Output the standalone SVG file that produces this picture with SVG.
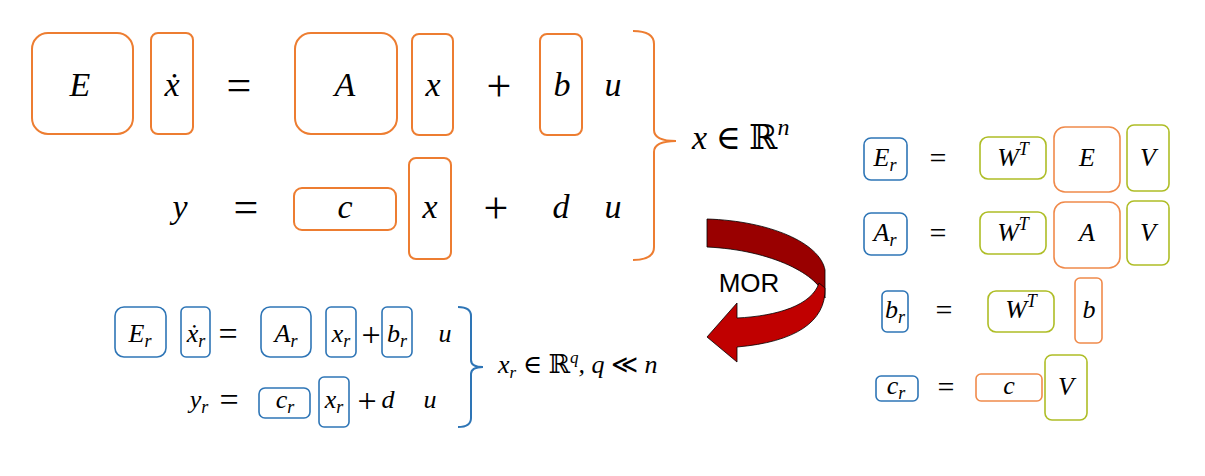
<svg xmlns="http://www.w3.org/2000/svg" width="1205" height="476" viewBox="0 0 1205 476">
<style>
.bo{fill:none;stroke:#ED7D31;stroke-width:2}
.bo2{fill:none;stroke:#F08A4B;stroke-width:1.6}
.bb{fill:none;stroke:#2E75B6;stroke-width:1.6}
.bg{fill:none;stroke:#AEBD26;stroke-width:1.6}
.m{font-family:"Liberation Serif","DejaVu Serif",serif;font-style:italic;fill:#000;text-anchor:middle}
.s{font-family:"Liberation Serif","DejaVu Serif",serif;fill:#000;text-anchor:middle}
.L{font-size:34px}
.S{font-size:26px}
.oL{font-size:44px}
.oS{font-size:34px}
.oR{font-size:30px}
.br{fill:none;stroke-width:2}
</style>
<rect width="1205" height="476" fill="#fff"/>
<!-- top full-order equation -->
<g id="E"><rect class="bo" x="32" y="33" width="101" height="101" rx="16"/><text class="m L" x="80" y="96">E</text></g>
<g id="xdot"><rect class="bo" x="151" y="33" width="42" height="101" rx="7"/><text class="m L" x="172" y="96">ẋ</text></g>
<g id="eq1"><text class="s oL" x="239" y="100">=</text></g>
<g id="A"><rect class="bo" x="295" y="33" width="102" height="101" rx="16"/><text class="m L" x="345" y="96">A</text></g>
<g id="x1"><rect class="bo" x="412" y="34" width="41" height="101" rx="7"/><text class="m L" x="433" y="96">x</text></g>
<g id="plus1"><text class="s oL" x="499" y="101">+</text></g>
<g id="b"><rect class="bo" x="540" y="34" width="42" height="101" rx="7"/><text class="m L" x="562" y="96">b</text></g>
<g id="u1"><text class="m L" x="613" y="96">u</text></g>
<g id="y"><text class="m L" x="180" y="218">y</text></g>
<g id="eq2"><text class="s oL" x="246" y="222">=</text></g>
<g id="c"><rect class="bo" x="294" y="188" width="102" height="42" rx="8"/><text class="m L" x="345" y="218">c</text></g>
<g id="x2"><rect class="bo" x="409" y="158" width="42" height="101" rx="7"/><text class="m L" x="430" y="218">x</text></g>
<g id="plus2"><text class="s oL" x="496" y="223">+</text></g>
<g id="d"><text class="m L" x="561" y="218">d</text></g>
<g id="u2"><text class="m L" x="613" y="218">u</text></g>
<g id="xRn"><text class="m" font-size="34" x="692" y="149" style="text-anchor:start">x <tspan font-style="normal">∈ ℝ</tspan><tspan font-size="24" dy="-14">n</tspan></text></g>
<!-- reduced-order equation -->
<g id="Er"><rect class="bb" x="115" y="307" width="51" height="50" rx="9"/><text class="m S" x="140" y="342">E<tspan font-size="18" dy="5">r</tspan></text></g>
<g id="xrdot"><rect class="bb" x="181" y="307" width="29" height="50" rx="5"/><text class="m S" x="196" y="342">ẋ<tspan font-size="18" dy="5">r</tspan></text></g>
<g id="eq3"><text class="s oS" x="228" y="345">=</text></g>
<g id="Ar"><rect class="bb" x="261" y="307" width="50" height="50" rx="9"/><text class="m S" x="286" y="342">A<tspan font-size="18" dy="5">r</tspan></text></g>
<g id="xr1"><rect class="bb" x="326" y="307" width="30" height="50" rx="5"/><text class="m S" x="341" y="342">x<tspan font-size="18" dy="5">r</tspan></text></g>
<g id="plus3"><text class="s oS" x="371" y="346">+</text></g>
<g id="brr"><rect class="bb" x="382" y="307" width="30" height="50" rx="5"/><text class="m S" x="397" y="342">b<tspan font-size="18" dy="5">r</tspan></text></g>
<g id="u3"><text class="m S" x="445" y="342">u</text></g>
<g id="yr"><text class="m S" x="199" y="408">y<tspan font-size="18" dy="5">r</tspan></text></g>
<g id="eq4"><text class="s oS" x="229" y="411">=</text></g>
<g id="cr"><rect class="bb" x="259" y="388" width="51" height="30" rx="6"/><text class="m S" x="285" y="408">c<tspan font-size="18" dy="5">r</tspan></text></g>
<g id="xr2"><rect class="bb" x="319" y="377" width="30" height="50" rx="5"/><text class="m S" x="334" y="408">x<tspan font-size="18" dy="5">r</tspan></text></g>
<g id="plus4"><text class="s oS" x="367" y="412">+</text></g>
<g id="d2"><text class="m S" x="388" y="408">d</text></g>
<g id="u4"><text class="m S" x="430" y="408">u</text></g>
<g id="xrRq"><text class="m" font-size="26" x="498" y="373" style="text-anchor:start">x<tspan font-size="17" dy="5">r</tspan><tspan font-style="normal" dy="-5"> ∈ ℝ</tspan><tspan font-size="17" dy="-10">q</tspan><tspan dy="10">, q </tspan><tspan font-style="normal">≪</tspan> n</text></g>
<!-- projection formulas -->
<g id="rEr"><rect class="bb" x="864" y="138" width="43" height="42" rx="7"/><text class="m S" x="885" y="166">E<tspan font-size="18" dy="5">r</tspan></text></g>
<g id="req1"><text class="s oR" x="938" y="168">=</text></g>
<g id="rWT1"><rect class="bg" x="980" y="137" width="66" height="42" rx="8"/><text class="m S" x="1013" y="166">W<tspan font-size="18" dy="-11">T</tspan></text></g>
<g id="rE"><rect class="bo2" x="1054" y="127" width="66" height="65" rx="11"/><text class="m S" x="1087" y="166">E</text></g>
<g id="rV1"><rect class="bg" x="1127" y="125" width="42" height="66" rx="7"/><text class="m S" x="1148" y="166">V</text></g>
<g id="rAr"><rect class="bb" x="864" y="213" width="43" height="42" rx="7"/><text class="m S" x="885" y="241">A<tspan font-size="18" dy="5">r</tspan></text></g>
<g id="req2"><text class="s oR" x="938" y="243">=</text></g>
<g id="rWT2"><rect class="bg" x="980" y="212" width="66" height="42" rx="8"/><text class="m S" x="1013" y="241">W<tspan font-size="18" dy="-11">T</tspan></text></g>
<g id="rA"><rect class="bo2" x="1054" y="202" width="66" height="66" rx="11"/><text class="m S" x="1087" y="241">A</text></g>
<g id="rV2"><rect class="bg" x="1127" y="201" width="42" height="64" rx="7"/><text class="m S" x="1148" y="241">V</text></g>
<g id="rbr"><rect class="bb" x="882" y="291" width="26" height="41" rx="5"/><text class="m S" x="895" y="318">b<tspan font-size="18" dy="5">r</tspan></text></g>
<g id="req3"><text class="s oR" x="944" y="320">=</text></g>
<g id="rWT3"><rect class="bg" x="988" y="291" width="66" height="41" rx="8"/><text class="m S" x="1021" y="318">W<tspan font-size="18" dy="-11">T</tspan></text></g>
<g id="rb"><rect class="bo2" x="1075" y="278" width="27" height="65" rx="5"/><text class="m S" x="1089" y="318">b</text></g>
<g id="rcr"><rect class="bb" x="876" y="376" width="42" height="25" rx="5"/><text class="m S" x="896" y="394">c<tspan font-size="18" dy="5">r</tspan></text></g>
<g id="req4"><text class="s oR" x="946" y="397">=</text></g>
<g id="rc"><rect class="bo2" x="976" y="374" width="66" height="27" rx="5"/><text class="m S" x="1009" y="394">c</text></g>
<g id="rV3"><rect class="bg" x="1045" y="355" width="42" height="65" rx="7"/><text class="m S" x="1066" y="395">V</text></g>
<!-- connectors: braces and MOR arrow -->
<g id="connectors">
<path class="br" stroke="#ED7D31" d="M633,31 Q654,31 654,44 L654,130 Q654,141 676,141 Q654,141 654,152 L654,247 Q654,260 633,260"/>
<path class="br" stroke="#2E75B6" stroke-width="1.6" d="M458,307 Q471,307 471,316 L471,360 Q471,367 483,367 Q471,367 471,374 L471,418 Q471,427 458,427"/>
<path d="M707,219 C770,221 820,243 825,270 L825,298 C820,275 772,250 707,247 Z" fill="#990000" stroke="#000" stroke-width="0.8"/>
<path d="M819,283 C812,305 778,316 737,318 L737,303 L707,337 L737,362 L737,347 C795,342 826,322 825,288 Z" fill="#C00000" stroke="#000" stroke-width="0.8"/>
<text x="749" y="292" font-family="'Liberation Sans',Arial,sans-serif" font-size="26" text-anchor="middle" fill="#000">MOR</text>
</g>
</svg>
